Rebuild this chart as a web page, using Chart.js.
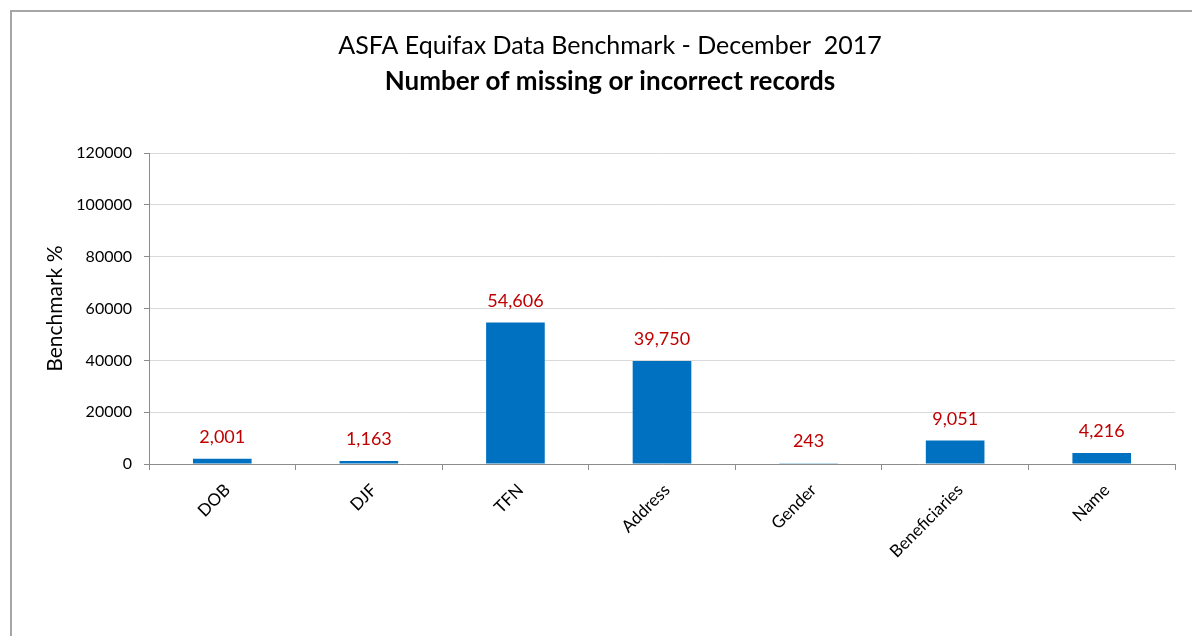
<!DOCTYPE html>
<html>
<head>
<meta charset="utf-8">
<script src="https://cdn.jsdelivr.net/npm/chart.js@4.4.1/dist/chart.umd.min.js"></script>
<style>
    html, body { margin: 0; padding: 0; background: #ffffff; overflow: hidden; }
    #wrap { position: relative; width: 1192px; height: 636px; }
    #frame { position: absolute; left: 10px; top: 10px; width: 1300px; height: 800px; border: 2px solid #a6a6a6; }
    #benchmark-chart { position: absolute; left: 0; top: 0; }
</style>
</head>
<body>
<div id="wrap">
    <div id="frame"></div>
    <canvas id="benchmark-chart" width="1192" height="636"></canvas>
</div>
<script>
// chart data
const categories = ['DOB', 'DJF', 'TFN', 'Address', 'Gender', 'Beneficiaries', 'Name'];
const recordCounts = [2001, 1163, 54606, 39750, 243, 9051, 4216];
const yTicks = [0, 20000, 40000, 60000, 80000, 100000, 120000];

const titleText = 'ASFA Equifax Data Benchmark - December  2017';
const subtitleText = 'Number of missing or incorrect records';

// red value labels over the bars
const valueLabels = {
    id: 'valueLabels',
    afterDatasetsDraw(chart) {
        const ctx = chart.ctx;
        const meta = chart.getDatasetMeta(0);
        ctx.save();
        ctx.font = '18px Lato';
        ctx.fillStyle = '#c00000';
        ctx.textAlign = 'center';
        ctx.textBaseline = 'alphabetic';
        meta.data.forEach(function(bar, i){
            ctx.fillText(recordCounts[i].toLocaleString('en-US'), bar.x, bar.y - 16);
        });
        ctx.restore();
    }
};

function drawChart(){
    Chart.defaults.font.family = 'Lato';
    Chart.defaults.color = '#000000';

    const benchmarkChart = new Chart(document.getElementById('benchmark-chart'), {
        type: 'bar',
        data: {
            labels: categories,
            datasets: [{
                label: 'Records',
                data: recordCounts,
                backgroundColor: '#0070c0',
                categoryPercentage: 1.0,
                barPercentage: 0.4
            }]
        },
        options: {
            responsive: false,
            animation: false,
            layout: {padding: {left: 28, right: 0, top: 20, bottom: 0}},
            plugins: {
                legend: {display: false},
                tooltip: {enabled: false},
                title: {
                    display: true,
                    text: titleText,
                    font: {size: 25, weight: 'normal'},
                    padding: {top: 11, bottom: 0}
                },
                subtitle: {
                    display: true,
                    text: subtitleText,
                    color: '#000000',
                    font: {size: 26, weight: 'bold'},
                    padding: {top: 5, bottom: 56}
                }
            },
            scales: {
                x: {
                    grid: {display: true, drawOnChartArea: false, offset: true, color: '#8c8c8c', tickLength: 6},
                    border: {display: true, color: '#8c8c8c'},
                    ticks: {font: {size: 17}, minRotation: 45, maxRotation: 45, autoSkip: false, padding: 10, labelOffset: 5},
                    afterFit(scale){ scale.height = 172; }
                },
                y: {
                    min: 0,
                    max: 120000,
                    afterBuildTicks(scale){ scale.ticks = yTicks.map(v => ({value: v})); },
                    grid: {color: '#d9d9d9', tickColor: '#8c8c8c', tickLength: 5},
                    border: {display: true, color: '#8c8c8c'},
                    ticks: {font: {size: 16}, padding: 12, callback: v => String(v)},
                    title: {display: true, text: 'Benchmark %', font: {size: 21}, padding: {top: 15, bottom: 0}},
                    afterFit(scale){ scale.width = 121; }
                },
                y2: {
                    position: 'right',
                    display: true,
                    grid: {display: false},
                    border: {display: false},
                    ticks: {display: false},
                    afterFit(scale){ scale.width = 17; }
                }
            }
        },
        plugins: [valueLabels]
    });
}

document.fonts.load('16px Lato').then(drawChart, drawChart);
</script>
</body>
</html>
